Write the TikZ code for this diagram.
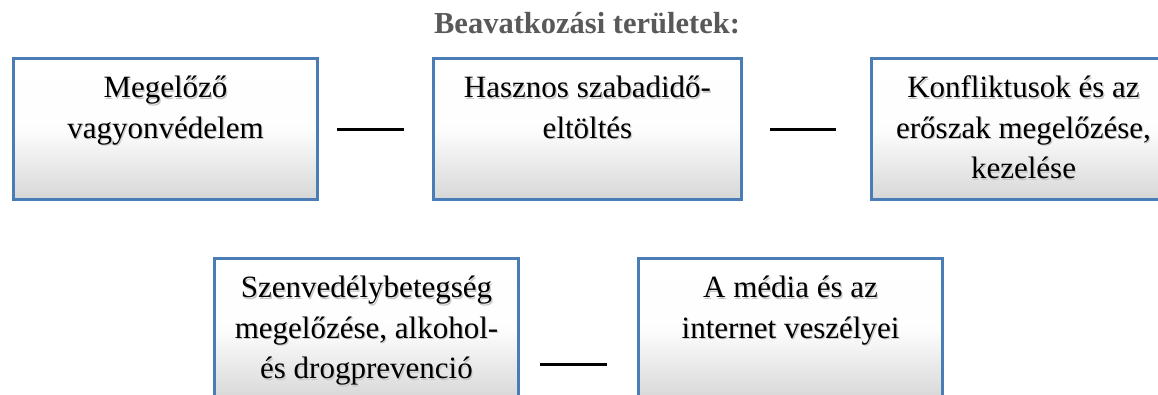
\documentclass[tikz,border=0pt]{standalone}
\usepackage{fontspec}
\setmainfont{Liberation Serif}
\usetikzlibrary{calc}
\definecolor{boxblue}{RGB}{74,124,182}
\definecolor{boxgrey}{RGB}{215,215,215}
\definecolor{titlegrey}{RGB}{89,89,89}
\definecolor{shadowgrey}{RGB}{200,200,200}
\tikzset{
  areabox/.style={draw=boxblue, line width=3pt, rectangle, inner sep=0pt,
    minimum width=304pt, minimum height=141pt, anchor=north west,
    top color=white, bottom color=boxgrey, middle color=white!96!boxgrey},
  areatext/.style={align=center, inner sep=0pt, anchor=north,
    font=\fontsize{31}{40.5}\selectfont, text=black},
  areashadow/.style={areatext, text=shadowgrey},
  link/.style={line width=3pt, black},
  heading/.style={font=\fontsize{30.5}{36}\selectfont\bfseries, text=titlegrey, anchor=base, inner sep=0pt}
}
\begin{document}
\begin{tikzpicture}[x=1pt,y=-1pt]
\useasboundingbox (0,0) rectangle (1158,394);
\clip (0,0) rectangle (1158,394);
\node[heading] (title) at (587,33) {Beavatkozási területek:};
% boxes
\node[areabox] (b1) at (12,57) {};
\node[areabox, minimum width=308pt] (b2) at (432,57) {};
\node[areabox] (b3) at (870,57) {};
\node[areabox] (b4) at (213,257) {};
\node[areabox] (b5) at (637,257) {};
% texts (with soft shadow)
\foreach \b/\t in {b1/{\strut Megelőző\\vagyonvédelem},
                    b2/{\strut Hasznos szabadidő-\\eltöltés},
                    b3/{\strut Konfliktusok és az\\erőszak megelőzése,\\kezelése},
                    b4/{\strut Szenvedélybetegség\\megelőzése, alkohol-\\és drogprevenció},
                    b5/{\strut A média és az\\internet veszélyei}}{
  \node[areashadow] (s\b) at ($(\b.north)+(1.2,13.6)$) {\t};
  \node[areatext] (t\b) at ($(\b.north)+(0,12)$) {\t};
}
% connectors
\draw[link] ($(b1.east)+(18,0)$) -- ($(b2.west)+(-28,0)$);
\draw[link] ($(b2.east)+(27,0)$) -- ($(b3.west)+(-34,0)$);
\coordinate (c4) at ($(b4.east)+(20,35)$);
\coordinate (c5) at ($(b5.west)+(-30,35)$);
\draw[link] (c4) -- (c5);
\end{tikzpicture}
\end{document}
